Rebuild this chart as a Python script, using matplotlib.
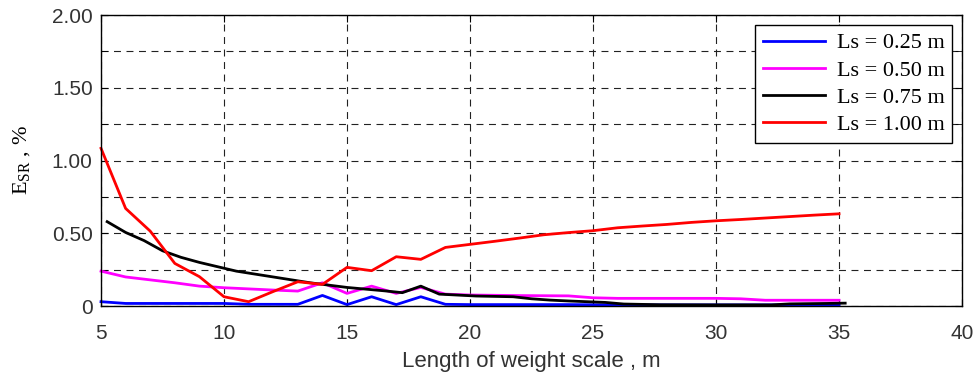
import numpy as np
import matplotlib
matplotlib.use("Agg")
import matplotlib.pyplot as plt
from matplotlib.ticker import MultipleLocator, FixedLocator

plt.rcParams['lines.scale_dashes'] = False

# Ls = 0.25 m
x_025 = [5, 6, 7, 8, 9, 10, 11, 12, 13, 14, 15, 16, 17, 18, 19, 20, 22, 24, 26, 28, 30, 32, 34, 35]
y_025 = [0.03, 0.018, 0.018, 0.018, 0.018, 0.018, 0.012, 0.012, 0.012, 0.073, 0.01, 0.064, 0.01, 0.064,
         0.012, 0.01, 0.01, 0.01, 0.008, 0.008, 0.008, 0.008, 0.008, 0.008]

# Ls = 0.50 m
x_050 = [5, 6, 7, 8, 9, 10, 11, 12, 13, 14, 15, 16, 17, 18, 19, 20, 22, 24, 25, 26, 28, 30, 31, 32, 33, 34, 35]
y_050 = [0.24, 0.2, 0.18, 0.16, 0.137, 0.126, 0.118, 0.11, 0.103, 0.16, 0.087, 0.137, 0.087, 0.128,
         0.082, 0.076, 0.072, 0.07, 0.057, 0.053, 0.053, 0.053, 0.05, 0.04, 0.04, 0.04, 0.04]

# Ls = 0.75 m
x_075 = [5.25, 6.0, 6.75, 7.5, 8.25, 9.0, 9.75, 10.5, 11.25, 12.0, 13.5, 15.0, 16.5, 17.25, 18.0,
         18.75, 20.25, 21.75, 22.5, 23.25, 24.0, 25.5, 26.25, 27.75, 30.0, 32.25, 33.0, 34.5, 35.25]
y_075 = [0.58, 0.506, 0.45, 0.38, 0.335, 0.3, 0.27, 0.24, 0.22, 0.2, 0.16, 0.128, 0.105, 0.092, 0.137,
         0.082, 0.069, 0.064, 0.05, 0.041, 0.035, 0.025, 0.014, 0.009, 0.008, 0.008, 0.015, 0.018, 0.02]

# Ls = 1.00 m
x_100 = [5, 6, 7, 8, 9, 10, 11, 12, 13, 14, 15, 16, 17, 18, 19, 20, 21, 22, 23, 24, 25, 26, 27, 28,
         29, 30, 31, 32, 33, 34, 35]
y_100 = [1.084, 0.671, 0.515, 0.293, 0.202, 0.064, 0.03, 0.1, 0.167, 0.149, 0.266, 0.243, 0.339, 0.321,
         0.403, 0.424, 0.445, 0.467, 0.49, 0.505, 0.518, 0.538, 0.55, 0.561, 0.575, 0.586, 0.595, 0.605,
         0.615, 0.625, 0.634]

series = [
    (x_025, y_025, '#0000ff', 'Ls = 0.25 m'),
    (x_050, y_050, '#ff00ff', 'Ls = 0.50 m'),
    (x_075, y_075, '#000000', 'Ls = 0.75 m'),
    (x_100, y_100, '#ff0000', 'Ls = 1.00 m'),
]

fig = plt.figure(figsize=(9.76, 3.76), dpi=100)
ax = fig.add_axes([0.1035, 0.186, 0.8822, 0.774])

for xs, ys, c, lab in series:
    ax.plot(xs, ys, color=c, lw=2, label=lab, clip_on=False)

ax.set_xlim(5, 40)
ax.set_ylim(0, 2)
ax.xaxis.set_major_locator(MultipleLocator(5))
ax.yaxis.set_major_locator(FixedLocator([0, 0.5, 1.0, 1.5, 2.0]))
ax.yaxis.set_minor_locator(FixedLocator([0.25, 0.75, 1.25, 1.75]))
ax.set_yticklabels(['0', '0.50', '1.00', '1.50', '2.00'])

ax.grid(True, which='both', color='#222222', lw=0.8, linestyle=(0, (5, 4)))
ax.set_axisbelow(True)
ax.tick_params(which='both', direction='in', top=True, right=True, length=5,
               labelsize=15, colors='black', labelcolor='#333333')
ax.tick_params(axis='y', pad=6)
ax.tick_params(axis='x', pad=13)
for t in ax.get_xticklabels() + ax.get_yticklabels():
    t.set_fontfamily('Liberation Sans')
for s in ax.spines.values():
    s.set_linewidth(1.0)

ax.set_xlabel('Length of weight scale , m', fontsize=16, family='Liberation Sans',
              color='#333333', labelpad=6)
ax.set_ylabel(r'$\mathregular{E_{SR}}$ , %', fontsize=16, family='Liberation Serif', labelpad=14)

leg = ax.legend(loc='upper right', prop={'family': 'Liberation Serif', 'size': 16},
                fancybox=False, framealpha=1, edgecolor='black', handlelength=2.8,
                borderaxespad=0.45, labelspacing=0.3, borderpad=0.35, handletextpad=0.5)
leg.get_frame().set_linewidth(1.0)

fig.savefig('out.png', dpi=100)
